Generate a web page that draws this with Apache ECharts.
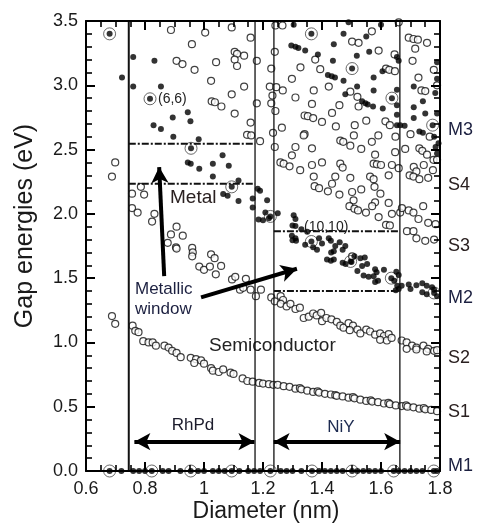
<!DOCTYPE html>
<html>
<head>
<meta charset="utf-8">
<script src="https://cdn.jsdelivr.net/npm/echarts@6/dist/echarts.min.js"></script>
<style>
  html, body { margin: 0; padding: 0; background: #fff; }
  #chart { width: 477px; height: 525px; }
</style>
</head>
<body>
<div id="chart"></div>
<script>
// diameter (nm) / gap energy (eV)
var semiPoints = [
  [0.699,2.40],[0.688,2.29],[0.688,1.205],[0.699,1.145],
  [0.888,3.43],[1.004,3.41],[1.094,3.45],[1.158,3.37],[0.959,3.32],[1.104,3.26],[1.112,3.245],[1.136,3.23],
  [1.104,3.20],[0.907,3.19],[0.927,3.165],[1.041,3.18],[1.112,3.15],[0.968,3.12],[1.179,3.19],[1.024,3.035],
  [1.136,2.99],[1.094,2.93],[1.026,2.875],[1.037,2.868],[1.059,2.835],[1.104,2.78],[1.158,2.71],[1.179,2.86],
  [1.146,2.615],[1.16,2.61],[1.19,2.565],
  [1.242,3.465],[1.266,3.465],[1.24,3.26],[1.569,3.42],[1.502,3.34],[1.524,3.33],[1.592,3.27],[1.377,3.20],
  [1.327,3.14],[1.394,3.125],[1.228,3.13],[1.298,3.05],[1.423,2.99],[1.223,2.99],[1.245,2.985],[1.267,2.96],
  [1.372,2.96],[1.31,2.905],[1.496,2.95],[1.52,2.91],[1.228,2.86],[1.366,2.855],[1.459,2.845],[1.524,2.835],
  [1.242,2.80],[1.341,2.765],[1.352,2.76],[1.37,2.745],[1.434,2.785],[1.40,2.715],[1.447,2.68],[1.264,2.67],
  [1.511,2.69],[1.55,2.725],[1.615,2.72],[1.63,2.69],[1.341,2.62],[1.694,3.37],[1.71,3.36],[1.725,3.355],
  [1.756,3.33],[1.716,3.285],[1.707,3.19],[1.779,3.12],[1.727,3.06],[1.79,3.0],[1.737,2.96],[1.75,2.955],
  [1.646,3.24],[1.617,3.13],[1.628,3.12],[1.647,3.11],[1.66,3.49],[1.232,2.92],[1.234,2.63],
  [1.338,2.61],[1.24,2.52],[1.31,2.52],[1.366,2.51],[1.462,2.57],[1.472,2.56],[1.508,2.61],[1.496,2.53],
  [1.533,2.505],[1.569,2.56],[1.591,2.61],[1.649,2.60],[1.648,2.48],[1.58,2.46],[1.298,2.455],[1.259,2.40],
  [1.27,2.39],[1.29,2.37],[1.366,2.38],[1.40,2.40],[1.462,2.39],[1.47,2.36],[1.575,2.39],[1.586,2.385],
  [1.60,2.38],[1.637,2.38],[1.326,2.34],[1.372,2.29],[1.445,2.29],[1.496,2.28],[1.563,2.29],[1.575,2.27],
  [1.626,2.30],[1.375,2.215],[1.39,2.20],[1.434,2.234],[1.42,2.175],[1.459,2.15],[1.502,2.17],[1.533,2.19],
  [1.578,2.21],[1.598,2.157],[1.507,2.105],[1.58,2.09],[1.57,2.06],[1.626,2.085],[1.493,2.06],[1.51,2.04],
  [1.522,2.027],[1.549,2.01],[1.592,1.975],[1.637,2.00],[1.617,1.915],[1.63,1.91],[1.665,2.01],[1.66,2.355],
  [1.671,2.045],[1.682,2.505],[1.73,2.51],[1.74,2.49],[1.756,2.46],[1.711,2.365],[1.72,2.33],[1.697,2.30],
  [1.71,2.29],[1.73,2.27],[1.76,2.28],[1.776,2.34],[1.778,2.42],[1.694,2.027],[1.71,2.01],[1.743,2.06],
  [1.727,1.96],[1.76,1.93],[1.688,1.865],[1.71,1.865],[1.72,1.81],[1.75,1.79],[1.78,1.80],[1.785,1.92],
  [1.70,2.62],[1.765,2.60],[1.79,2.42],[1.745,2.38],
  [0.786,2.21],[0.756,2.157],[0.797,2.15],[0.756,2.045],[0.775,2.01],[0.832,2.00],[0.824,1.94],[0.907,1.90],
  [0.888,1.84],[0.928,1.83],[0.877,1.775],[0.905,1.74],[0.96,1.735],
  [0.907,1.73],[0.962,1.70],[0.96,1.67],[1.024,1.685],[1.036,1.655],[0.984,1.59],[1.0,1.565],[1.02,1.59],
  [1.058,1.595],[1.04,1.53],[1.095,1.49],[1.106,1.51],[1.142,1.495],[1.122,1.41],[1.133,1.425],[1.158,1.41],
  [1.176,1.36],[1.193,1.41],
  [1.228,1.35],[1.24,1.32],[1.26,1.36],[1.268,1.33],[1.26,1.30],[1.28,1.28],[1.293,1.30],[1.31,1.26],
  [1.325,1.27],[1.338,1.19],[1.355,1.20],[1.37,1.225],[1.382,1.21],[1.397,1.23],[1.40,1.165],[1.415,1.19],
  [1.432,1.18],[1.45,1.16],[1.462,1.13],[1.473,1.115],[1.49,1.15],[1.505,1.13],[1.494,1.095],[1.52,1.10],
  [1.53,1.07],[1.55,1.10],[1.563,1.085],[1.58,1.06],[1.597,1.07],[1.61,1.05],[1.626,1.065],[1.597,1.02],
  [1.62,1.015],[1.636,1.035],[1.67,1.015],[1.687,1.0],[1.705,0.975],[1.72,0.96],[1.744,0.975],[1.76,0.95],
  [1.78,0.935],[1.687,0.95],[1.72,0.945],[1.755,0.93],[1.79,0.94],[1.502,1.67],
  [0.758,1.13],[0.767,1.09],[0.778,1.08],[0.794,1.01],[0.812,1.0],[0.826,1.0],[0.837,0.975],[0.866,0.975],
  [0.88,0.96],[0.892,0.935],[0.907,0.918],[0.921,0.885],[0.955,0.88],[0.973,0.87],[0.99,0.86],[0.967,0.84],
  [1.0,0.835],[1.024,0.80],[1.03,0.78],[1.05,0.77],[1.065,0.79],[1.09,0.765],[1.10,0.755],[1.131,0.72],
  [1.147,0.70],[1.165,0.695],[1.187,0.685],
  [1.20,0.68],[1.22,0.675],[1.235,0.67],[1.25,0.67],[1.27,0.66],[1.29,0.655],[1.31,0.64],[1.325,0.645],
  [1.33,0.635],[1.35,0.625],[1.37,0.615],[1.385,0.62],[1.39,0.61],[1.41,0.60],[1.43,0.595],[1.445,0.59],
  [1.45,0.585],[1.47,0.58],[1.49,0.57],[1.505,0.575],[1.51,0.565],[1.53,0.555],[1.55,0.545],[1.565,0.55],
  [1.57,0.54],[1.59,0.535],[1.61,0.525],[1.625,0.53],[1.63,0.52],[1.65,0.51],[1.67,0.505],[1.685,0.51],
  [1.69,0.50],[1.71,0.495],[1.73,0.485],[1.745,0.49],[1.75,0.48],[1.77,0.475],[1.79,0.465]
];

var metalPoints = [
  [0.68,3.40],[0.722,3.06],[0.76,3.22],[0.76,2.99],[0.832,3.19],[0.854,2.99],[0.817,2.895],[0.894,2.75],
  [0.945,2.79],[0.954,2.72],[0.829,2.69],[0.854,2.66],[0.896,2.60],[0.982,2.58],[0.956,2.51],[0.945,2.40],
  [0.955,2.39],[0.984,2.35],[1.03,2.39],[1.063,2.455],[1.084,2.375],[1.03,2.29],[1.117,2.26],[1.094,2.21],
  [1.065,2.155],[1.08,2.14],[1.117,2.10],[1.182,2.195],[1.19,2.18],[1.165,2.12],[1.165,2.05],[1.185,1.957],
  [1.214,2.105],[1.208,2.01],[1.225,1.98],[1.25,2.005],[1.304,1.99],[1.31,1.96],[1.20,1.95],[1.22,1.965],
  [1.30,1.91],[1.31,1.905],[1.298,1.83],[1.31,1.81],[1.30,1.795],[1.312,1.79],[1.364,1.785],[1.343,1.76],
  [1.39,1.81],[1.423,1.81],[1.43,1.79],[1.445,1.75],[1.479,1.75],[1.33,1.88],[1.35,1.86],[1.40,1.77],
  [1.46,1.78],[1.37,1.74],
  [1.383,1.72],[1.431,1.70],[1.44,1.71],[1.47,1.72],[1.417,1.645],[1.43,1.635],[1.44,1.645],[1.47,1.62],
  [1.48,1.61],[1.50,1.625],[1.51,1.67],[1.53,1.655],[1.545,1.66],[1.536,1.595],[1.553,1.61],[1.52,1.555],
  [1.541,1.52],[1.558,1.51],[1.575,1.515],[1.58,1.57],[1.585,1.545],[1.61,1.565],[1.635,1.50],[1.652,1.55],
  [1.66,1.525],[1.645,1.48],[1.655,1.44],[1.66,1.415],[1.65,1.405],[1.67,1.44],[1.694,1.45],[1.70,1.415],
  [1.72,1.445],[1.74,1.46],[1.755,1.44],[1.74,1.39],[1.755,1.375],[1.773,1.43],[1.78,1.41],[1.78,1.385],
  [1.79,1.36],[1.58,1.47],[1.59,1.48],[1.497,1.63],
  [1.304,3.47],[1.473,3.40],[1.56,3.26],[1.55,3.38],[1.296,3.31],[1.31,3.30],[1.32,3.29],[1.343,3.27],
  [1.386,3.24],[1.44,3.32],[1.518,3.23],[1.437,3.19],[1.502,3.13],[1.654,3.22],[1.66,3.19],[1.42,3.08],
  [1.433,3.07],[1.444,3.06],[1.473,3.035],[1.519,2.99],[1.575,3.06],[1.605,3.11],[1.711,2.99],[1.654,2.965],
  [1.784,2.94],[1.479,2.93],[1.575,2.96],[1.536,2.875],[1.547,2.86],[1.555,2.85],[1.637,2.90],[1.573,2.835],
  [1.606,2.82],[1.654,2.845],[1.742,2.875],[1.711,2.83],[1.75,2.78],[1.79,2.78],[1.775,2.69],[1.711,2.745],
  [1.654,2.77],[1.654,2.69],[1.665,2.69],[1.68,2.685],[1.73,2.64],[1.742,2.63],[1.364,3.40],[1.79,3.18],
  [1.79,3.05],[1.795,2.55],[1.79,2.47],[1.78,2.60],[1.785,2.52],[1.49,3.49],[1.60,3.47],
  [0.68,0],[0.72,0],[0.76,0],[0.78,0],[0.80,0],[0.823,0],[0.86,0],[0.88,0],[0.92,0],[0.955,0],[0.98,0],
  [1.0,0],[1.03,0],[1.05,0],[1.07,0],[1.094,0],[1.12,0],[1.15,0],[1.17,0],[1.19,0],[1.225,0],[1.26,0],
  [1.28,0],[1.30,0],[1.33,0],[1.366,0],[1.39,0],[1.41,0],[1.43,0],[1.45,0],[1.47,0],[1.502,0],[1.52,0],
  [1.54,0],[1.56,0],[1.58,0],[1.60,0],[1.643,0],[1.66,0],[1.68,0],[1.70,0],[1.72,0],[1.74,0],[1.779,0],[1.79,0]
];

// armchair (n,n) tubes, drawn with a ring
var armchairPoints = [
  [0.68,3.40],[0.817,2.895],[0.956,2.51],[1.094,2.21],[1.225,1.98],[1.364,1.785],[1.497,1.63],[1.635,1.50],
  [1.78,1.385],[1.364,3.40],[1.502,3.13],[1.637,2.90],[1.775,2.69],
  [0.68,0],[0.823,0],[0.955,0],[1.094,0],[1.225,0],[1.366,0],[1.502,0],[1.643,0],[1.779,0]
];

// catalyst diameter windows and metallic window levels
var windowEdges = [0.745, 1.173, 1.237, 1.664];
var levelLines = [
  [[0.745,2.545],[1.173,2.545]],
  [[0.745,2.234],[1.173,2.234]],
  [[1.237,1.864],[1.664,1.864]],
  [[1.237,1.40],[1.664,1.40]]
];
var arrows = [
  { from: [0.865,1.516], to: [0.848,2.364], both: false },
  { from: [0.99,1.35], to: [1.315,1.573], both: false },
  { from: [0.764,0.228], to: [1.171,0.228], both: true },
  { from: [1.236,0.228], to: [1.665,0.228], both: true }
];
var xTicks = ["0.6", "0.8", "1", "1.2", "1.4", "1.6", "1.8"];
var bandLabels = [["M3",130],["S4",185],["S3",246],["M2",298],["S2",358],["S1",412],["M1",466]];

var chart = echarts.init(document.getElementById("chart"));
var FONT = "'Liberation Sans', Arial, sans-serif";

var axisCommon = {
  z: 10,
  axisLine: { show: true, onZero: false, lineStyle: { color: "#000", width: 2 } },
  axisTick: { show: true, inside: true, length: 9, lineStyle: { color: "#000", width: 2 } },
  minorTick: { show: true, length: 6, lineStyle: { color: "#000", width: 1.6 } },
  splitLine: { show: false },
  minorSplitLine: { show: false }
};

function xAx(pos, showLabel) {
  return Object.assign({}, axisCommon, {
    type: "value", position: pos, min: 0.6, max: 1.8, interval: 0.2,
    minorTick: Object.assign({}, axisCommon.minorTick, { splitNumber: 4 }),
    axisLabel: {
      show: showLabel, color: "#1a1a1a", fontSize: 18, fontFamily: FONT, margin: 9,
      formatter: function (v) {
        var i = Math.round((v - 0.6) / 0.2);
        return xTicks[i] || "";
      }
    }
  });
}
function yAx(pos, showLabel) {
  return Object.assign({}, axisCommon, {
    type: "value", position: pos, min: 0, max: 3.5, interval: 0.5,
    minorTick: Object.assign({}, axisCommon.minorTick, { splitNumber: 5 }),
    axisLabel: {
      show: showLabel, color: "#1a1a1a", fontSize: 18, fontFamily: FONT, margin: 8,
      formatter: function (v) { return v.toFixed(1); }
    }
  });
}

var series = [];
// vertical window edges
windowEdges.forEach(function (x, i) {
  series.push({
    type: "line", silent: true, symbol: "none",
    data: [[x, 0], [x, 3.5]],
    lineStyle: { color: "#111", width: i === 0 ? 2 : 1.3 }
  });
});
levelLines.forEach(function (seg) {
  series.push({
    type: "line", silent: true, symbol: "none", data: seg,
    lineStyle: { color: "#111", width: 2, type: [7, 2, 2, 2] }
  });
});
series.push({
  type: "scatter", name: "semi", data: semiPoints, symbol: "circle", symbolSize: 7,
  itemStyle: { color: "#fff", borderColor: "#111", borderWidth: 1.2 }
});
series.push({
  type: "scatter", name: "ring", data: armchairPoints, symbol: "circle", symbolSize: 12,
  itemStyle: { color: "rgba(255,255,255,0)", borderColor: "#444", borderWidth: 1 }
});
series.push({
  type: "scatter", name: "metal", data: metalPoints, symbol: "circle", symbolSize: 6,
  itemStyle: { color: "#000" },
  markLine: {
    silent: true, animation: false,
    label: { show: false },
    lineStyle: { color: "#000", width: 4, type: "solid" },
    symbolSize: [13, 16],
    data: arrows.map(function (a) {
      return [
        { coord: a.from, symbol: a.both ? "arrow" : "none" },
        { coord: a.to, symbol: "arrow" }
      ];
    })
  }
});

function txt(s, x, y, size, color, align) {
  return {
    type: "text", x: x, y: y,
    style: {
      text: s, fill: color || "#1a1a1a", fontSize: size, fontFamily: FONT,
      textAlign: align || "left", textVerticalAlign: "middle"
    }
  };
}

var graphics = [
  txt("(6,6)", 158, 99, 14, "#222"),
  txt("Metal", 170, 198, 19, "#2a2020"),
  txt("(10,10)", 304, 227, 14, "#222"),
  txt("Metallic", 135, 289, 17, "#1c2040"),
  txt("window", 135, 309, 17, "#1c2040"),
  txt("Semiconductor", 209, 346, 19, "#222"),
  txt("RhPd", 193, 425, 17, "#1c1c2c", "center"),
  txt("NiY", 341, 427, 17, "#1c2a50", "center"),
  txt("Diameter (nm)", 266, 512, 23, "#1a1a1a", "center"),
  {
    type: "text", x: 25, y: 226, rotation: Math.PI / 2,
    style: {
      text: "Gap energies (eV)", fill: "#1a1a1a", fontSize: 25, fontFamily: FONT,
      textAlign: "center", textVerticalAlign: "middle"
    }
  }
];
bandLabels.forEach(function (b) {
  graphics.push(txt(b[0], 448, b[1], 18, b[0][0] === "M" ? "#1c2040" : "#2a2020"));
});

chart.setOption({
  animation: false,
  backgroundColor: "#fff",
  grid: { left: 86, right: 37, top: 21, bottom: 54 },
  xAxis: [xAx("bottom", true), xAx("top", false)],
  yAxis: [yAx("left", true), yAx("right", false)],
  series: series,
  graphic: graphics
});
</script>
</body>
</html>
